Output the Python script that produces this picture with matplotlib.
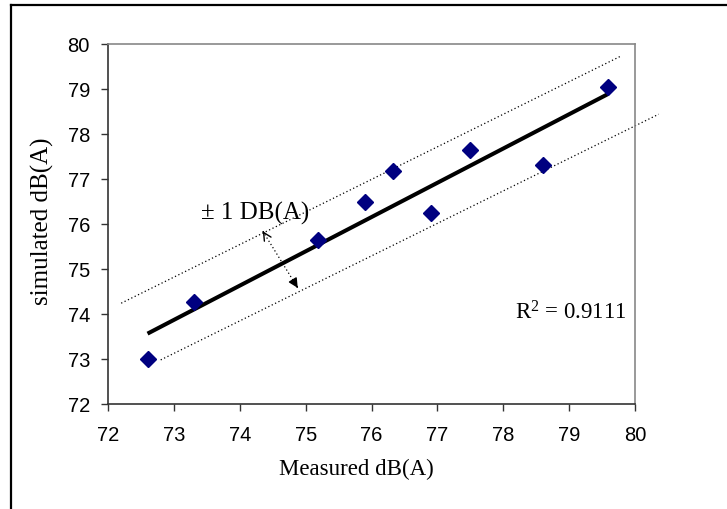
import matplotlib
matplotlib.use("Agg")
import matplotlib.pyplot as plt
import numpy as np
from matplotlib.lines import Line2D

# measured vs simulated noise levels
measured = [72.6, 73.3, 75.19, 75.9, 76.32, 76.9, 77.49, 78.61, 79.59]
simulated = [73.0, 74.26, 75.64, 76.5, 77.18, 76.24, 77.65, 77.32, 79.04]

# +/- 1 dB(A) band lines (drawn by hand in the original)
upper_x = [72.2, 79.77]
upper_y = [74.24, 79.72]
lower_x = [72.8, 80.36]
lower_y = [72.98, 78.44]
arrow_top = (74.35, 75.84)
arrow_bottom = (74.88, 74.58)

ticks = [72, 73, 74, 75, 76, 77, 78, 79, 80]
r2_text = "R$^2$ = 0.9111"
band_text = "± 1 DB(A)"

serif = "Liberation Serif"
sans = "Liberation Sans"
plt.rcParams["mathtext.fontset"] = "custom"
plt.rcParams["mathtext.rm"] = serif
plt.rcParams["mathtext.it"] = serif

fig = plt.figure(figsize=(7.27, 5.10), dpi=100)
ax = fig.add_axes([108 / 727, 1 - 405 / 510, 527 / 727, 360 / 510])

# trend line from least squares fit
m, b = np.polyfit(measured, simulated, 1)
xs = np.array([min(measured), max(measured)])
ax.plot(xs, m * xs + b, color="black", lw=2.9, solid_capstyle="butt", zorder=3)

ax.plot(upper_x, upper_y, color="black", lw=0.9, ls=(0, (1, 2)), clip_on=False)
ax.plot(lower_x, lower_y, color="black", lw=0.9, ls=(0, (1, 2)), clip_on=False)

ax.plot(measured, simulated, ls="none", marker="D", ms=8, color="#000080",
        markeredgecolor="#000080", zorder=4)

# double arrow
ax.plot([arrow_top[0], arrow_bottom[0]], [arrow_top[1], arrow_bottom[1]],
        color="black", lw=0.9, ls=(0, (1, 2)))
dx = arrow_bottom[0] - arrow_top[0]
dy = arrow_bottom[1] - arrow_top[1]
ax.annotate("", xy=arrow_top, xytext=(arrow_top[0] + dx * 0.02, arrow_top[1] + dy * 0.02),
            arrowprops=dict(arrowstyle="->", lw=1.0, color="black",
                            mutation_scale=14, shrinkA=0, shrinkB=0))
ax.annotate("", xy=arrow_bottom, xytext=(arrow_bottom[0] - dx * 0.02, arrow_bottom[1] - dy * 0.02),
            arrowprops=dict(arrowstyle="-|>", lw=1.0, color="black",
                            mutation_scale=14, shrinkA=0, shrinkB=0))

ax.text(73.41, 76.13, band_text, family=serif, fontsize=18, va="baseline", ha="left")
ax.text(78.18, 73.91, r2_text, family=serif, fontsize=16.5, va="baseline", ha="left")

ax.set_xlim(72, 80)
ax.set_ylim(72, 80)
ax.set_xticks(ticks)
ax.set_yticks(ticks)
ax.tick_params(direction="out", length=5, width=1, color="#333333")
ax.tick_params(axis="x", pad=10)
ax.tick_params(axis="y", pad=8)
for lab in ax.get_xticklabels() + ax.get_yticklabels():
    lab.set_family(sans)
    lab.set_fontsize(14.5)

ax.spines["left"].set_color("#333333")
ax.spines["bottom"].set_color("#333333")
ax.spines["top"].set_color("#888888")
ax.spines["right"].set_color("#888888")
for s in ax.spines.values():
    s.set_linewidth(1.2)

fig.text(356 / 727, 1 - 469 / 510, "Measured dB(A)", family=serif, fontsize=16.5,
         ha="center", va="center")
fig.text(42 / 727, 1 - 221 / 510, "simulated dB(A)", family=serif, fontsize=18,
         ha="center", va="center", rotation=90)

# chart border (top and left edges visible)
fig.add_artist(Line2D([11 / 727, 1.0], [1 - 6 / 510, 1 - 6 / 510], color="black", lw=1.6))
fig.add_artist(Line2D([11 / 727, 11 / 727], [0, 1 - 6 / 510], color="black", lw=1.6))

fig.savefig("out.png", dpi=100)
